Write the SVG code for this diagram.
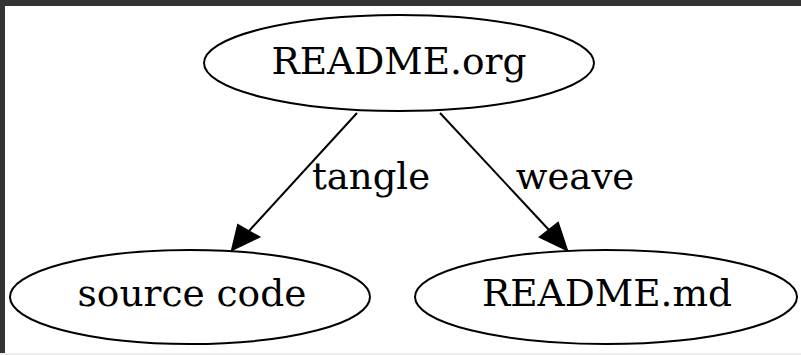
<svg xmlns="http://www.w3.org/2000/svg" width="801" height="355" viewBox="0 0 801 355">
<style>
.node ellipse{fill:none;stroke:#000;stroke-width:2}
text{font-family:"DejaVu Serif",serif;font-size:37.5px;fill:#000;text-anchor:middle}
.lbl{font-size:37px}
.edge path{fill:none;stroke:#000;stroke-width:2}
.edge polygon{fill:#000;stroke:#000;stroke-width:2}
</style>
<rect x="0" y="0" width="801" height="355" fill="#333333"/>
<rect x="0" y="353" width="801" height="2" fill="#eeeeee"/>
<rect x="5" y="6" width="796" height="347" fill="#ffffff"/>
<g id="edges" class="edge">
<path d="M357,113 L249,231"/>
<polygon points="238,225 232,250 259,237"/>
<text class="lbl" x="371" y="189">tangle</text>
<path d="M440,113 L549,230"/>
<polygon points="540,237 567,250 558,223"/>
<text class="lbl" x="575" y="189">weave</text>
</g>
<g id="readme_org" class="node">
<ellipse cx="399" cy="63" rx="195" ry="48"/>
<text x="399" y="74">README.org</text>
</g>
<g id="source_code" class="node">
<ellipse cx="190" cy="297" rx="180" ry="47"/>
<text x="192" y="306">source code</text>
</g>
<g id="readme_md" class="node">
<ellipse cx="606" cy="297" rx="191" ry="47"/>
<text x="607" y="306">README.md</text>
</g>
</svg>
